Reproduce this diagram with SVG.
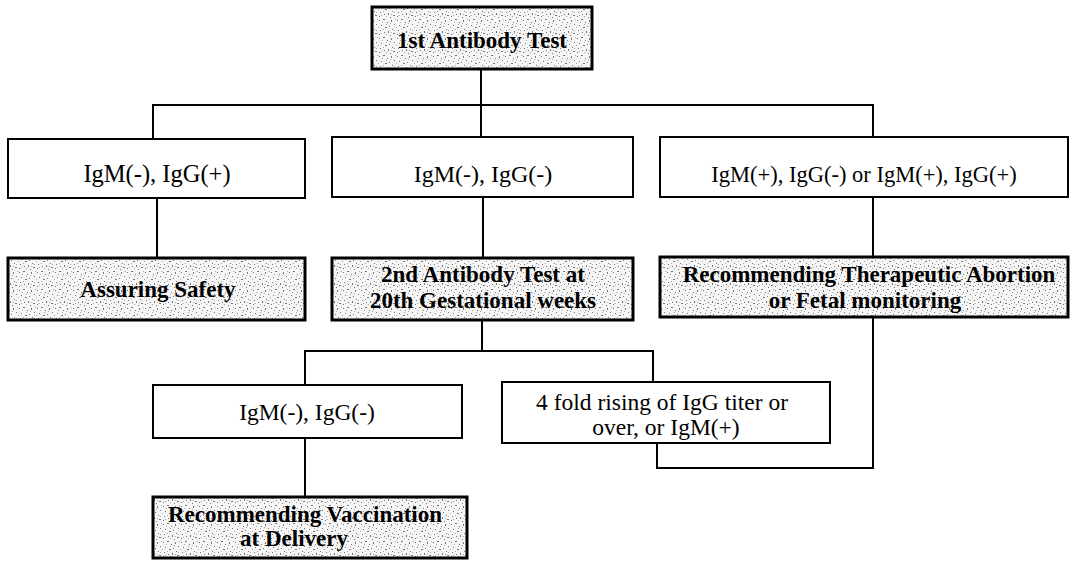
<svg xmlns="http://www.w3.org/2000/svg" width="1071" height="561" viewBox="0 0 1071 561">
<defs>
<pattern id="speckle" width="18" height="18" patternUnits="userSpaceOnUse">
<rect width="18" height="18" fill="#f6f6f6"/>
<g fill="#777">
<rect x="1" y="2" width="1" height="1"/><rect x="5" y="1" width="2" height="1"/><rect x="9" y="4" width="1" height="1"/>
<rect x="13" y="2" width="1" height="2"/><rect x="16" y="6" width="1" height="1"/><rect x="3" y="7" width="1" height="1"/>
<rect x="7" y="9" width="2" height="1"/><rect x="11" y="8" width="1" height="1"/><rect x="14" y="11" width="1" height="1"/>
<rect x="2" y="12" width="1" height="1"/><rect x="6" y="14" width="1" height="1"/><rect x="10" y="13" width="1" height="2"/>
<rect x="15" y="15" width="2" height="1"/><rect x="1" y="16" width="1" height="1"/><rect x="12" y="17" width="1" height="1"/>
</g>
<g fill="#aaa">
<rect x="4" y="4" width="1" height="1"/><rect x="8" y="6" width="1" height="1"/><rect x="17" y="1" width="1" height="1"/>
<rect x="0" y="9" width="1" height="1"/><rect x="12" y="5" width="1" height="1"/><rect x="5" y="11" width="1" height="1"/>
<rect x="16" y="12" width="1" height="1"/><rect x="8" y="16" width="1" height="1"/><rect x="3" y="15" width="1" height="1"/>
<rect x="13" y="14" width="1" height="1"/>
</g>
</pattern>
</defs>
<style>
.plain{fill:#fff;stroke:#000;stroke-width:2}
.shade{fill:url(#speckle);stroke:#000;stroke-width:3}
.t{font-family:"Liberation Serif","Times New Roman",serif;font-size:23.5px;fill:#000;text-anchor:middle}
.b{font-family:"Liberation Serif","Times New Roman",serif;font-size:23px;font-weight:bold;fill:#000;text-anchor:middle}
.c{fill:none;stroke:#000;stroke-width:2}
</style>
<rect width="1071" height="561" fill="#fff"/>
<g id="connectors">
<path class="c" d="M481 69 V137"/>
<path class="c" d="M153 139 V105 H873 V137"/>
<path class="c" d="M157 198 V258"/>
<path class="c" d="M483 197 V258"/>
<path class="c" d="M873 197 V257"/>
<path class="c" d="M482 320 V351"/>
<path class="c" d="M305 385 V351 H653 V382"/>
<path class="c" d="M305 438 V497"/>
<path class="c" d="M657 443 V468 H873 V317"/>
</g>
<g id="n1"><rect class="shade" x="372" y="7" width="220" height="62"/><text class="b" x="482" y="48">1st Antibody Test</text></g>
<g id="n2"><rect class="plain" x="8" y="139" width="297" height="59"/><text class="t" x="157" y="182" style="font-size:24.5px">IgM(-), IgG(+)</text></g>
<g id="n3"><rect class="plain" x="332" y="137" width="301" height="60"/><text class="t" x="483" y="182" style="font-size:24px">IgM(-), IgG(-)</text></g>
<g id="n4"><rect class="plain" x="660" y="137" width="408" height="60"/><text class="t" x="864" y="182" style="font-size:22.5px">IgM(+), IgG(-) or IgM(+), IgG(+)</text></g>
<g id="n5"><rect class="shade" x="8" y="258" width="297" height="62"/><text class="b" x="158" y="297">Assuring Safety</text></g>
<g id="n6"><rect class="shade" x="332" y="258" width="301" height="62"/><text class="b" x="483" y="282">2nd Antibody Test at</text><text class="b" x="483" y="308">20th Gestational weeks</text></g>
<g id="n7"><rect class="shade" x="660" y="257" width="408" height="60"/><text class="b" x="869" y="282">Recommending Therapeutic Abortion</text><text class="b" x="865" y="308">or Fetal monitoring</text></g>
<g id="n8"><rect class="plain" x="153" y="385" width="309" height="53"/><text class="t" x="307" y="420">IgM(-), IgG(-)</text></g>
<g id="n9"><rect class="plain" x="502" y="382" width="328" height="61"/><text class="t" x="662" y="410">4 fold rising of IgG titer or</text><text class="t" x="666" y="435">over, or IgM(+)</text></g>
<g id="n10"><rect class="shade" x="153" y="497" width="314" height="61"/><text class="b" x="305" y="522">Recommending Vaccination</text><text class="b" x="294" y="546">at Delivery</text></g>
</svg>
